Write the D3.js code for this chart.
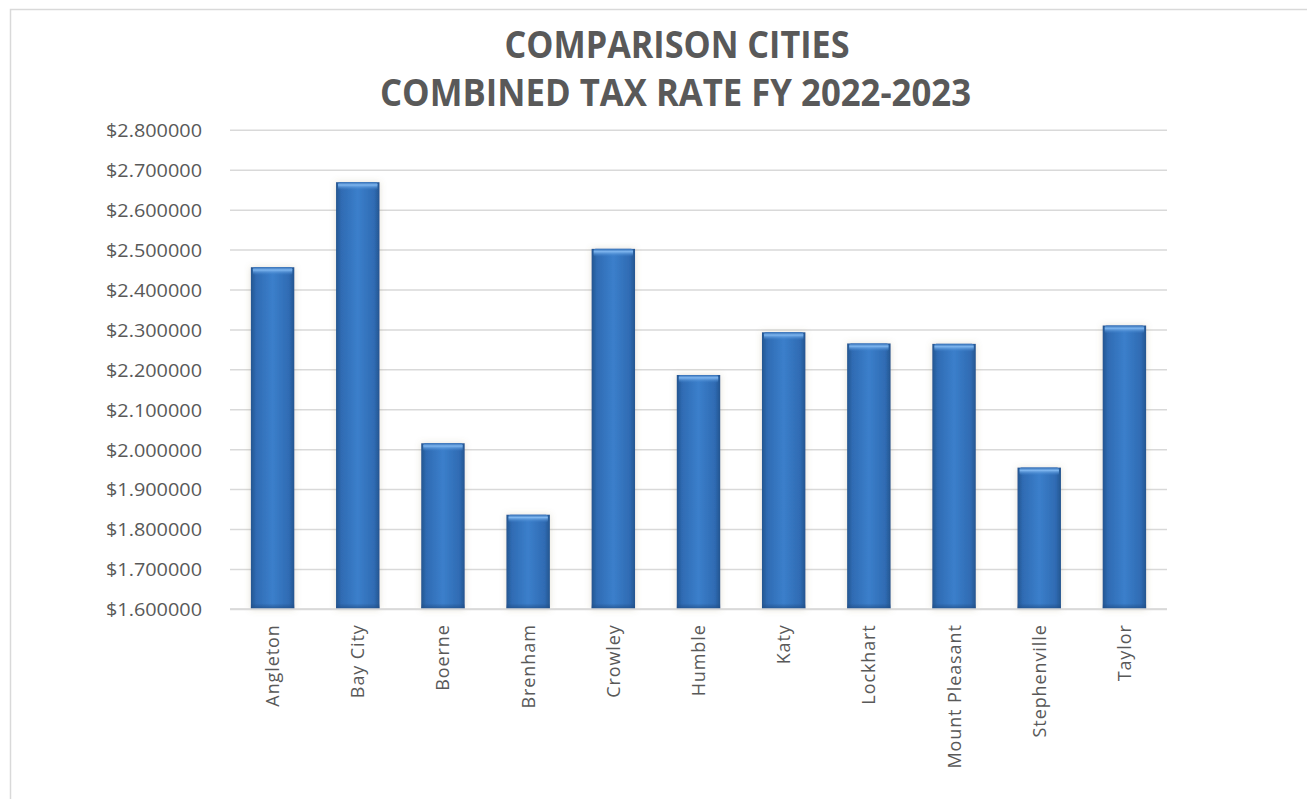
<!DOCTYPE html>
<html><head><meta charset="utf-8">
<script src="https://cdn.jsdelivr.net/npm/d3@7"></script>
<style>
html,body{margin:0;padding:0;background:#fff;}
svg{display:block;}
</style></head>
<body>
<script>
const categories = ["Angleton","Bay City","Boerne","Brenham","Crowley","Humble","Katy","Lockhart","Mount Pleasant","Stephenville","Taylor"];
const values = [2.457, 2.670, 2.016, 1.837, 2.503, 2.187, 2.294, 2.266, 2.265, 1.955, 2.311];
const yTicks = [1.6,1.7,1.8,1.9,2.0,2.1,2.2,2.3,2.4,2.5,2.6,2.7,2.8];
const titleLines = ["COMPARISON CITIES","COMBINED TAX RATE FY 2022-2023"];

const W = 1307, H = 799;
const svg = d3.select("body").append("svg").attr("width", W).attr("height", H);
const defs = svg.append("defs");

const gH = defs.append("linearGradient").attr("id","barH").attr("x1","0").attr("x2","1").attr("y1","0").attr("y2","0");
gH.append("stop").attr("offset","0%").attr("stop-color","#24558f");
gH.append("stop").attr("offset","12%").attr("stop-color","#2f6bb3");
gH.append("stop").attr("offset","50%").attr("stop-color","#3b7fcb");
gH.append("stop").attr("offset","88%").attr("stop-color","#2f6bb3");
gH.append("stop").attr("offset","100%").attr("stop-color","#24558f");

const gT = defs.append("linearGradient").attr("id","barTop").attr("x1","0").attr("x2","0").attr("y1","0").attr("y2","1");
gT.append("stop").attr("offset","0%").attr("stop-color","#2f6bb3");
gT.append("stop").attr("offset","35%").attr("stop-color","#7fb6ef");
gT.append("stop").attr("offset","100%").attr("stop-color","#3b7fcb").attr("stop-opacity",0);

const gB = defs.append("linearGradient").attr("id","barBot").attr("x1","0").attr("x2","0").attr("y1","0").attr("y2","1");
gB.append("stop").attr("offset","0%").attr("stop-color","#1f4c85").attr("stop-opacity",0);
gB.append("stop").attr("offset","100%").attr("stop-color","#1f4c85").attr("stop-opacity",0.8);

const f = defs.append("filter").attr("id","shadow").attr("x","-30%").attr("y","-10%").attr("width","160%").attr("height","120%");
f.append("feDropShadow").attr("dx",0).attr("dy",0).attr("stdDeviation",3).attr("flood-color","#8a7a50").attr("flood-opacity",0.25);

// outer border
svg.append("rect").attr("x",10.5).attr("y",9.5).attr("width",W+20).attr("height",H+20)
  .attr("fill","none").attr("stroke","#d9d9d9").attr("stroke-width",1.5);

const margin = {left:230, right:W-1167, top:130.3, bottom:H-609.3};
const x = d3.scaleBand().domain(categories).range([margin.left, W-margin.right]).paddingInner(0.49).paddingOuter(0.245);
const y = d3.scaleLinear().domain([1.6, 2.8]).range([H-margin.bottom, margin.top]);

const font = "'Open Sans', sans-serif";
const txtColor = "#595959";

// title
const title = svg.append("g");
title.append("text").attr("x",677).attr("y",58).attr("text-anchor","middle")
  .attr("font-family",font).attr("font-weight",700).attr("font-size",37).attr("fill",txtColor)
  .attr("textLength",345).attr("lengthAdjust","spacingAndGlyphs").text(titleLines[0]);
title.append("text").attr("x",675.5).attr("y",106).attr("text-anchor","middle")
  .attr("font-family",font).attr("font-weight",700).attr("font-size",37).attr("fill",txtColor)
  .attr("textLength",591).attr("lengthAdjust","spacingAndGlyphs").text(titleLines[1]);

// gridlines
svg.append("g").selectAll("line").data(yTicks).join("line")
  .attr("x1",margin.left).attr("x2",W-margin.right)
  .attr("y1",d=>y(d)).attr("y2",d=>y(d))
  .attr("stroke","#d9d9d9").attr("stroke-width",1.5);

// y axis
const yAxis = svg.append("g").attr("transform",`translate(${margin.left},0)`)
  .call(d3.axisLeft(y).tickValues(yTicks).tickSize(0).tickPadding(28).tickFormat(d=>"$"+d3.format(".6f")(d)));
yAxis.select(".domain").remove();
yAxis.selectAll("text").attr("font-family",font).attr("font-size",17.8).attr("fill",txtColor)
  .attr("textLength",96).attr("lengthAdjust","spacingAndGlyphs").attr("dy","0.36em");

// bars
const bars = svg.append("g");
const bg = bars.selectAll("g").data(categories).join("g");
bg.append("rect").attr("x",d=>x(d)).attr("width",x.bandwidth())
  .attr("y",(d,i)=>y(values[i])).attr("height",(d,i)=>y(1.6)-y(values[i]))
  .attr("fill","url(#barH)").attr("filter","url(#shadow)");
bg.append("rect").attr("x",d=>x(d)+2).attr("width",x.bandwidth()-4)
  .attr("y",(d,i)=>y(values[i])).attr("height",8)
  .attr("fill","url(#barTop)").attr("rx",2);
bg.append("rect").attr("x",d=>x(d)).attr("width",x.bandwidth())
  .attr("y",(d,i)=>y(1.6)-6).attr("height",6)
  .attr("fill","url(#barBot)");

// baseline
svg.append("line").attr("x1",margin.left).attr("x2",W-margin.right)
  .attr("y1",y(1.6)).attr("y2",y(1.6)).attr("stroke","#d9d9d9").attr("stroke-width",2);

// x axis
const xAxis = svg.append("g").attr("transform",`translate(0,${y(1.6)})`)
  .call(d3.axisBottom(x).tickSize(0).tickPadding(0));
xAxis.select(".domain").remove();
xAxis.selectAll("text")
  .attr("font-family",font).attr("font-size",18).attr("fill",txtColor).attr("letter-spacing","0.9px")
  .attr("text-anchor","end").attr("transform","rotate(-90)")
  .attr("x",-15).attr("y",0).attr("dy","0.36em");
</script>
</body></html>
